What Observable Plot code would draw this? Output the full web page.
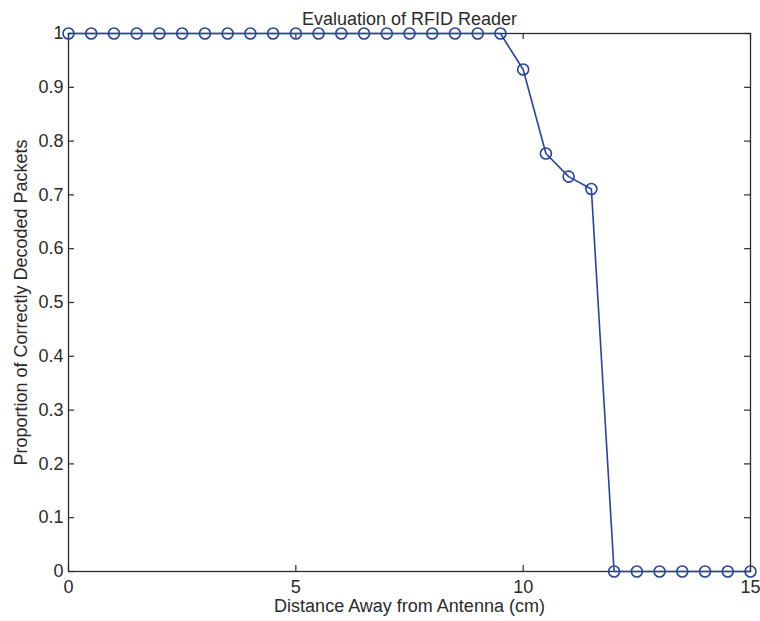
<!DOCTYPE html>
<html>
<head>
<meta charset="utf-8">
<script src="https://cdn.jsdelivr.net/npm/d3@7"></script>
<script src="https://cdn.jsdelivr.net/npm/@observablehq/plot@0.6"></script>
<style>
  html, body { margin: 0; padding: 0; background: #fff; }
  #chart svg { display: block; }
</style>
</head>
<body>
<div id="chart"></div>
<script>
// Read distance (cm) and share of packets decoded correctly at each position
const distance = [0, 0.5, 1, 1.5, 2, 2.5, 3, 3.5, 4, 4.5, 5, 5.5, 6, 6.5, 7, 7.5,
                  8, 8.5, 9, 9.5, 10, 10.5, 11, 11.5, 12, 12.5, 13, 13.5, 14, 14.5, 15];
const proportion = [1, 1, 1, 1, 1, 1, 1, 1, 1, 1, 1, 1, 1, 1, 1, 1,
                    1, 1, 1, 1, 0.933, 0.777, 0.734, 0.711, 0, 0, 0, 0, 0, 0, 0];

const xTicks = [0, 5, 10, 15];
const yTicks = [0, 0.1, 0.2, 0.3, 0.4, 0.5, 0.6, 0.7, 0.8, 0.9, 1];

const titleText = "Evaluation of RFID Reader";
const xLabel = "Distance Away from Antenna (cm)";
const yLabel = "Proportion of Correctly Decoded Packets";

const data = distance.map((d, i) => ({distance: d, proportion: proportion[i]}));

const W = 760, H = 621;
const M = {top: 33, right: 10, bottom: 50, left: 68};
const fw = W - M.left - M.right;   // frame width
const fh = H - M.top - M.bottom;   // frame height
const tick = 6;                    // inward tick length
const ink = "#2a2a2a";
const blue = "#2743a0";

const chart = Plot.plot({
  width: W,
  height: H,
  marginTop: M.top,
  marginRight: M.right,
  marginBottom: M.bottom,
  marginLeft: M.left,
  style: {fontFamily: "'Liberation Sans', Arial, Helvetica, sans-serif", fontSize: "18px", color: ink, background: "#fff"},
  x: {domain: [0, 15]},
  y: {domain: [0, 1]},
  marks: [
    // tick labels
    Plot.axisX(xTicks, {tickSize: 0, tickPadding: 9, fontSize: 18, label: null, fill: ink}),
    Plot.axisY(yTicks, {tickSize: 0, tickPadding: 5, fontSize: 18, label: null, fill: ink,
                        tickFormat: d => d3.format("~g")(d)}),
    // inward ticks on all four sides of the box
    Plot.tickX(xTicks, {x: d => d, insetTop: fh - tick, stroke: ink, strokeWidth: 1.2}),
    Plot.tickX(xTicks, {x: d => d, insetBottom: fh - tick, stroke: ink, strokeWidth: 1.2}),
    Plot.tickY(yTicks, {y: d => d, insetRight: fw - tick, stroke: ink, strokeWidth: 1.2}),
    Plot.tickY(yTicks, {y: d => d, insetLeft: fw - tick, stroke: ink, strokeWidth: 1.2}),
    Plot.frame({stroke: ink, strokeWidth: 1.3}),
    // the measured series
    Plot.line(data, {x: "distance", y: "proportion", stroke: blue, strokeWidth: 1.6}),
    Plot.dot(data, {x: "distance", y: "proportion", r: 5.5, stroke: blue, strokeWidth: 1.6, fill: "none"}),
    // title and axis labels
    Plot.text([titleText], {frameAnchor: "top", dy: -21, fontSize: 18, fill: ink}),
    Plot.text([xLabel], {frameAnchor: "bottom", dy: 40, fontSize: 18, fill: ink}),
    Plot.text([yLabel], {frameAnchor: "left", textAnchor: "middle", dx: -47, rotate: -90, fontSize: 18, fill: ink})
  ]
});

document.getElementById("chart").appendChild(chart);
</script>
</body>
</html>
